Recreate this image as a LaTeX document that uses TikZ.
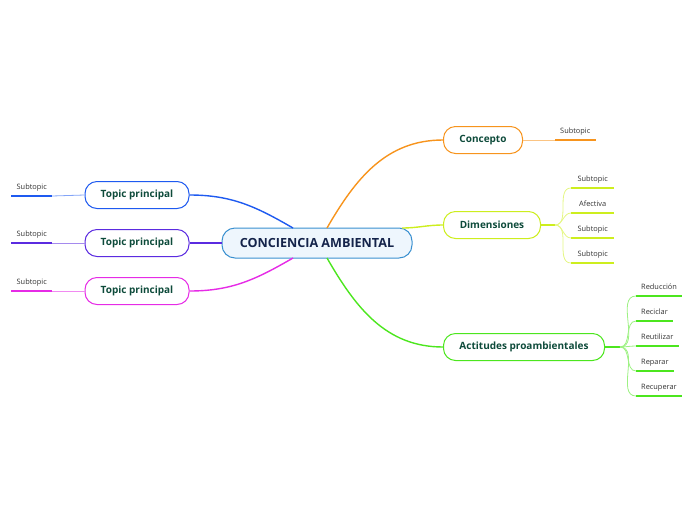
\documentclass[tikz,border=0pt]{standalone}
\usepackage{fontspec}
\setmainfont{Open Sans}
\usetikzlibrary{positioning}
\definecolor{ncentral}{HTML}{3A90D0}
\definecolor{ncentralfill}{HTML}{EEF6FD}
\definecolor{ncentraltext}{HTML}{14234A}
\definecolor{ntopictext}{HTML}{0E4B3B}
\definecolor{nsubtext}{HTML}{333333}
\definecolor{nblue}{HTML}{1E5AF0}
\definecolor{npurple}{HTML}{5B2BE0}
\definecolor{nmagenta}{HTML}{E62BE6}
\definecolor{norange}{HTML}{F7941D}
\definecolor{nyellow}{HTML}{CDEE1E}
\definecolor{ngreen}{HTML}{4CE61E}

\begin{document}
\begin{tikzpicture}[x=1pt, y=-1pt,
  mainbox/.style={draw=ncentral, fill=ncentralfill, rounded corners=13pt, line width=1pt, minimum width=190pt, minimum height=30pt, text=ncentraltext, font=\bfseries\fontsize{12.6}{14}\selectfont},
  topicbox/.style={draw=#1, fill=white, rounded corners=12pt, line width=1pt, minimum height=27pt, text=ntopictext, font=\bfseries\fontsize{10}{12}\selectfont},
  subt/.style={inner xsep=5pt, inner ysep=4.5pt, text height=5.5pt, text depth=1.5pt, text=nsubtext, font=\fontsize{7.4}{9}\selectfont},
  subline/.style={draw=#1, line width=2pt},
  mainlink/.style={draw=#1, line width=1.4pt},
  branch/.style={draw=#1!55, line width=0.8pt}]
 \useasboundingbox (0,0) rectangle (696,520);
 \node[mainbox] (cen) at (317,243) {CONCIENCIA AMBIENTAL};
 \node[topicbox=norange, minimum width=79pt] (conc) at (483,140) {Concepto};
 \node[topicbox=nyellow, minimum width=97pt] (dim) at (492,225) {Dimensiones};
 \node[topicbox=ngreen, minimum width=161pt] (act) at (524,347) {Actitudes proambientales};
 \node[topicbox=nblue, minimum width=104pt] (tpa) at (137,195) {Topic principal};
 \node[topicbox=npurple, minimum width=104pt] (tpb) at (137,243) {Topic principal};
 \node[topicbox=nmagenta, minimum width=104pt] (tpc) at (137,291) {Topic principal};
 \coordinate (cena) at (293,228);
 \coordinate (cenb) at (327,228);
 \coordinate (cenc) at (402,228);
 \coordinate (cend) at (293,258);
 \coordinate (cene) at (327,258);
 \path[mainlink=nblue] (tpa.east) to[out=0, in=150] (cena);
 \path[mainlink=npurple] (tpb.east) -- (cen.west);
 \path[mainlink=nmagenta] (tpc.east) to[out=0, in=-150] (cend);
 \path[mainlink=norange] (cenb) to[out=60, in=180] (conc.west);
 \path[mainlink=nyellow] (cenc) to[out=0, in=180] (dim.west);
 \path[mainlink=ngreen] (cene) to[out=-60, in=180] (act.west);
 \node[subt, anchor=south west] (csub) at (555,140) {Subtopic};
 \path[subline=norange] (csub.south west) -- (csub.south east);
 \path[branch=norange] (conc.east) -- (csub.south west);
 \node[subt, anchor=south east] (lsa) at (52,196) {Subtopic};
 \node[subt, anchor=south east] (lsb) at (52,243) {Subtopic};
 \node[subt, anchor=south east] (lsc) at (52,291) {Subtopic};
 \path[subline=nblue] (lsa.south west) -- (lsa.south east);
 \path[subline=npurple] (lsb.south west) -- (lsb.south east);
 \path[subline=nmagenta] (lsc.south west) -- (lsc.south east);
 \path[branch=nblue] (tpa.west) -- (lsa.south east);
 \path[branch=npurple] (tpb.west) -- (lsb.south east);
 \path[branch=nmagenta] (tpc.west) -- (lsc.south east);
 \coordinate (dimfork) at (555,225);
 \path[draw=nyellow, line width=1.4pt] (dim.east) -- (dimfork);
 \foreach \t [count=\k] in {Subtopic,Afectiva,Subtopic,Subtopic} {
  \node[subt, anchor=south west, minimum width=43pt] (d\k) at (571,163+25*\k) {\t};
  \path[subline=nyellow] (d\k.south west) -- (d\k.south east);
  \path[branch=nyellow] (dimfork) to[out=0, in=180] (d\k.south west);
 }
 \coordinate (actfork) at (620,347);
 \path[draw=ngreen, line width=1.4pt] (act.east) -- (actfork);
 \foreach \t [count=\k] in {Reducción,Reciclar,Reutilizar,Reparar,Recuperar} {
  \node[subt, anchor=south west] (a\k) at (636,271+25*\k) {\t};
  \path[subline=ngreen] (a\k.south west) -- (a\k.south east);
  \path[branch=ngreen] (actfork) to[out=0, in=180] (a\k.south west);
 }
\end{tikzpicture}
\end{document}
